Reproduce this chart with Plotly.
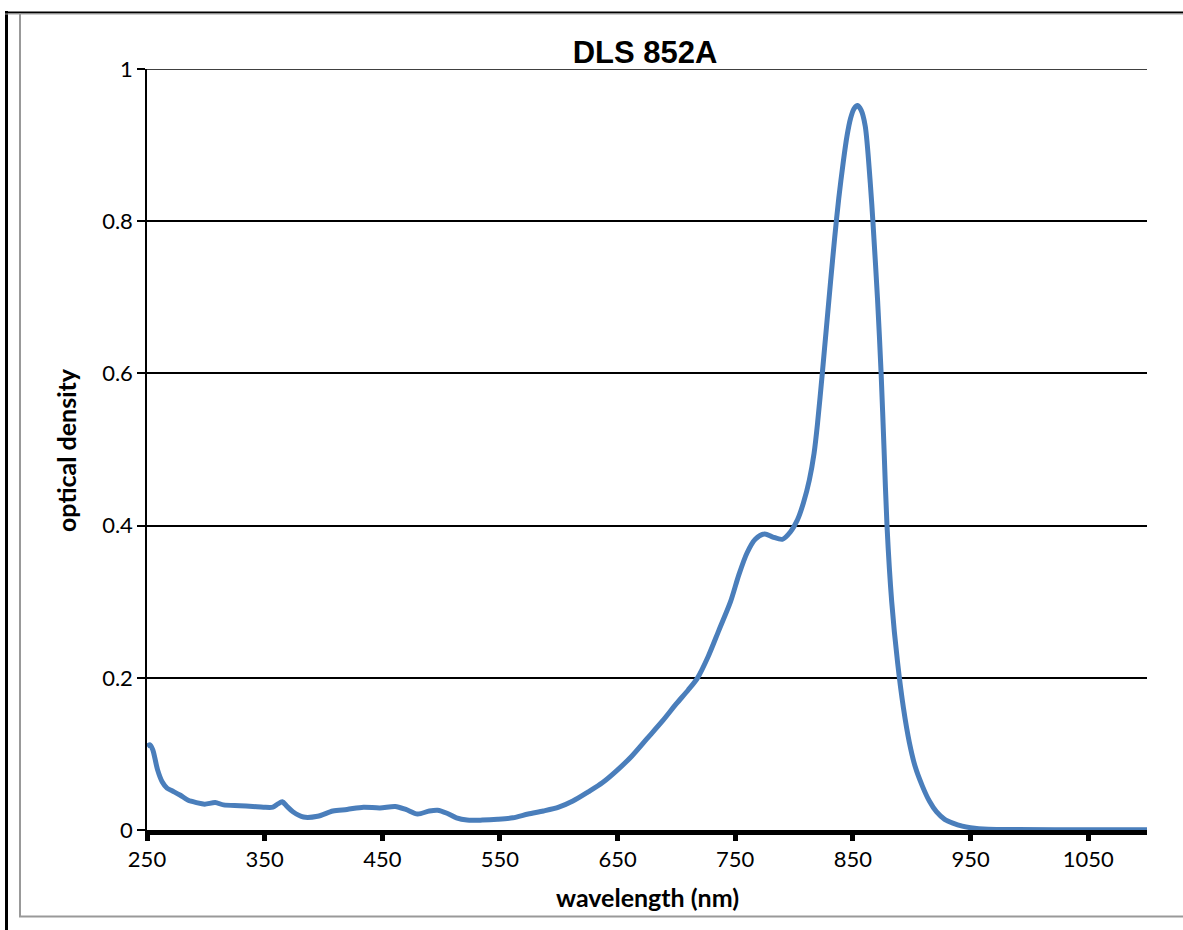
import plotly.graph_objects as go

# Data
wavelength_nm = [
    250, 252.6, 255, 259, 263, 267, 272, 278, 285, 292, 299, 308, 315, 329, 340,
    349, 357, 361, 365, 369, 374, 383, 395, 408, 420, 434, 448, 461, 470, 480,
    490, 497, 505, 513, 522, 535, 548, 561, 574, 587, 600, 612, 625, 637, 650,
    662, 675, 688, 700, 710, 718, 727, 736, 746, 753, 760, 767, 775, 782, 790,
    797, 803, 808, 813, 817, 820, 824, 827.5, 831, 834.5, 838, 842, 845, 848, 851,
    854, 857, 860.5, 864.8, 867, 871, 874, 876.5, 879, 883, 888, 893, 898, 903,
    909, 915, 921, 928, 935, 943, 950, 965, 990, 1050, 1100,
]
optical_density = [
    0.110, 0.112, 0.105, 0.079, 0.063, 0.055, 0.051, 0.046, 0.039, 0.036, 0.034,
    0.036, 0.033, 0.032, 0.031, 0.030, 0.030, 0.034, 0.037, 0.031, 0.024, 0.017,
    0.018, 0.025, 0.027, 0.030, 0.029, 0.031, 0.027, 0.021, 0.025, 0.026, 0.022,
    0.016, 0.013, 0.013, 0.014, 0.016, 0.021, 0.025, 0.030, 0.038, 0.050, 0.062,
    0.079, 0.097, 0.120, 0.143, 0.166, 0.184, 0.200, 0.228, 0.262, 0.300, 0.335,
    0.364, 0.382, 0.389, 0.385, 0.382, 0.392, 0.408, 0.430, 0.460, 0.495, 0.535,
    0.600, 0.660, 0.720, 0.778, 0.830, 0.880, 0.912, 0.935, 0.948, 0.952, 0.946,
    0.925, 0.850, 0.800, 0.696, 0.600, 0.500, 0.400, 0.300, 0.220, 0.160, 0.115,
    0.083, 0.058, 0.038, 0.024, 0.014, 0.009, 0.005, 0.003, 0.001, 0.0005,
    0.0003, 0.0002,
]
x_ticks = [250, 350, 450, 550, 650, 750, 850, 950, 1050]
y_ticks = [0, 0.2, 0.4, 0.6, 0.8, 1]

chart_title = "DLS 852A"
x_title = "wavelength (nm)"
y_title = "optical density"

W, H = 1183, 930
L, R, T, B = 147, 36, 69, 100
PW, PH = W - L - R, H - T - B


def px(xp):
    return (xp - L) / PW


def py(yp):
    return (H - B - yp) / PH


fig = go.Figure()
fig.add_trace(go.Scatter(
    x=wavelength_nm, y=optical_density, mode="lines",
    line=dict(color="#4A7EBB", width=5, shape="spline", smoothing=0.8),
    showlegend=False, hoverinfo="x+y",
))

tick_font = dict(family="Lato, Open Sans, sans-serif", size=22, color="black")
title_font = dict(family="Lato, Open Sans, sans-serif", size=25, color="black",
                  weight="bold")

fig.update_layout(
    width=W, height=H,
    margin=dict(l=L, r=R, t=T, b=B),
    paper_bgcolor="white", plot_bgcolor="white",
    title=dict(text=chart_title, x=px(645), xref="paper", xanchor="center",
               y=1 - 52 / H, yref="container", yanchor="middle",
               font=dict(family="Liberation Sans, Arial", size=31, color="black",
                         weight="bold")),
    xaxis=dict(range=[250, 1100], tickvals=x_ticks, ticks="outside", ticklen=6,
               tickwidth=5, tickcolor="black", showline=True, linewidth=5,
               linecolor="black", showgrid=False, zeroline=False,
               tickfont=tick_font, layer="below traces"),
    yaxis=dict(range=[0, 1], tickvals=y_ticks, ticks="outside", ticklen=8,
               tickwidth=1.5, tickcolor="black", showline=True, linewidth=1.5,
               linecolor="black", showgrid=True, gridcolor="black", gridwidth=1.5,
               zeroline=False, tickfont=tick_font, layer="below traces"),
    annotations=[
        dict(text=x_title, xref="paper", yref="paper", x=px(647), y=py(897),
             xanchor="center", yanchor="middle", showarrow=False,
             font=title_font),
        dict(text=y_title, xref="paper", yref="paper", x=px(66), y=py(450),
             xanchor="center", yanchor="middle", showarrow=False, textangle=-90,
             font=title_font),
    ],
    shapes=[
        # top gridline at 1
        dict(type="line", xref="paper", yref="y", x0=0, x1=1, y0=1, y1=1,
             line=dict(color="black", width=1.5), layer="below"),
        # outer frame
        dict(type="line", xref="paper", yref="paper", x0=px(6.5), x1=px(6.5),
             y0=py(11), y1=py(935), line=dict(color="black", width=3)),
        dict(type="line", xref="paper", yref="paper", x0=px(5), x1=px(1190),
             y0=py(12.5), y1=py(12.5), line=dict(color="black", width=2)),
        dict(type="line", xref="paper", yref="paper", x0=px(5), x1=px(1190),
             y0=py(14), y1=py(14), line=dict(color="#A0A0A0", width=1)),
        dict(type="line", xref="paper", yref="paper", x0=px(20), x1=px(20),
             y0=py(13), y1=py(916.5), line=dict(color="#999999", width=2)),
        dict(type="line", xref="paper", yref="paper", x0=px(19), x1=px(1190),
             y0=py(916.5), y1=py(916.5), line=dict(color="#999999", width=2)),
    ],
)

fig.write_html("out.html",
               config={"displayModeBar": False},
               post_script="document.body.style.margin='0';"
                           "document.body.style.overflow='hidden';")
